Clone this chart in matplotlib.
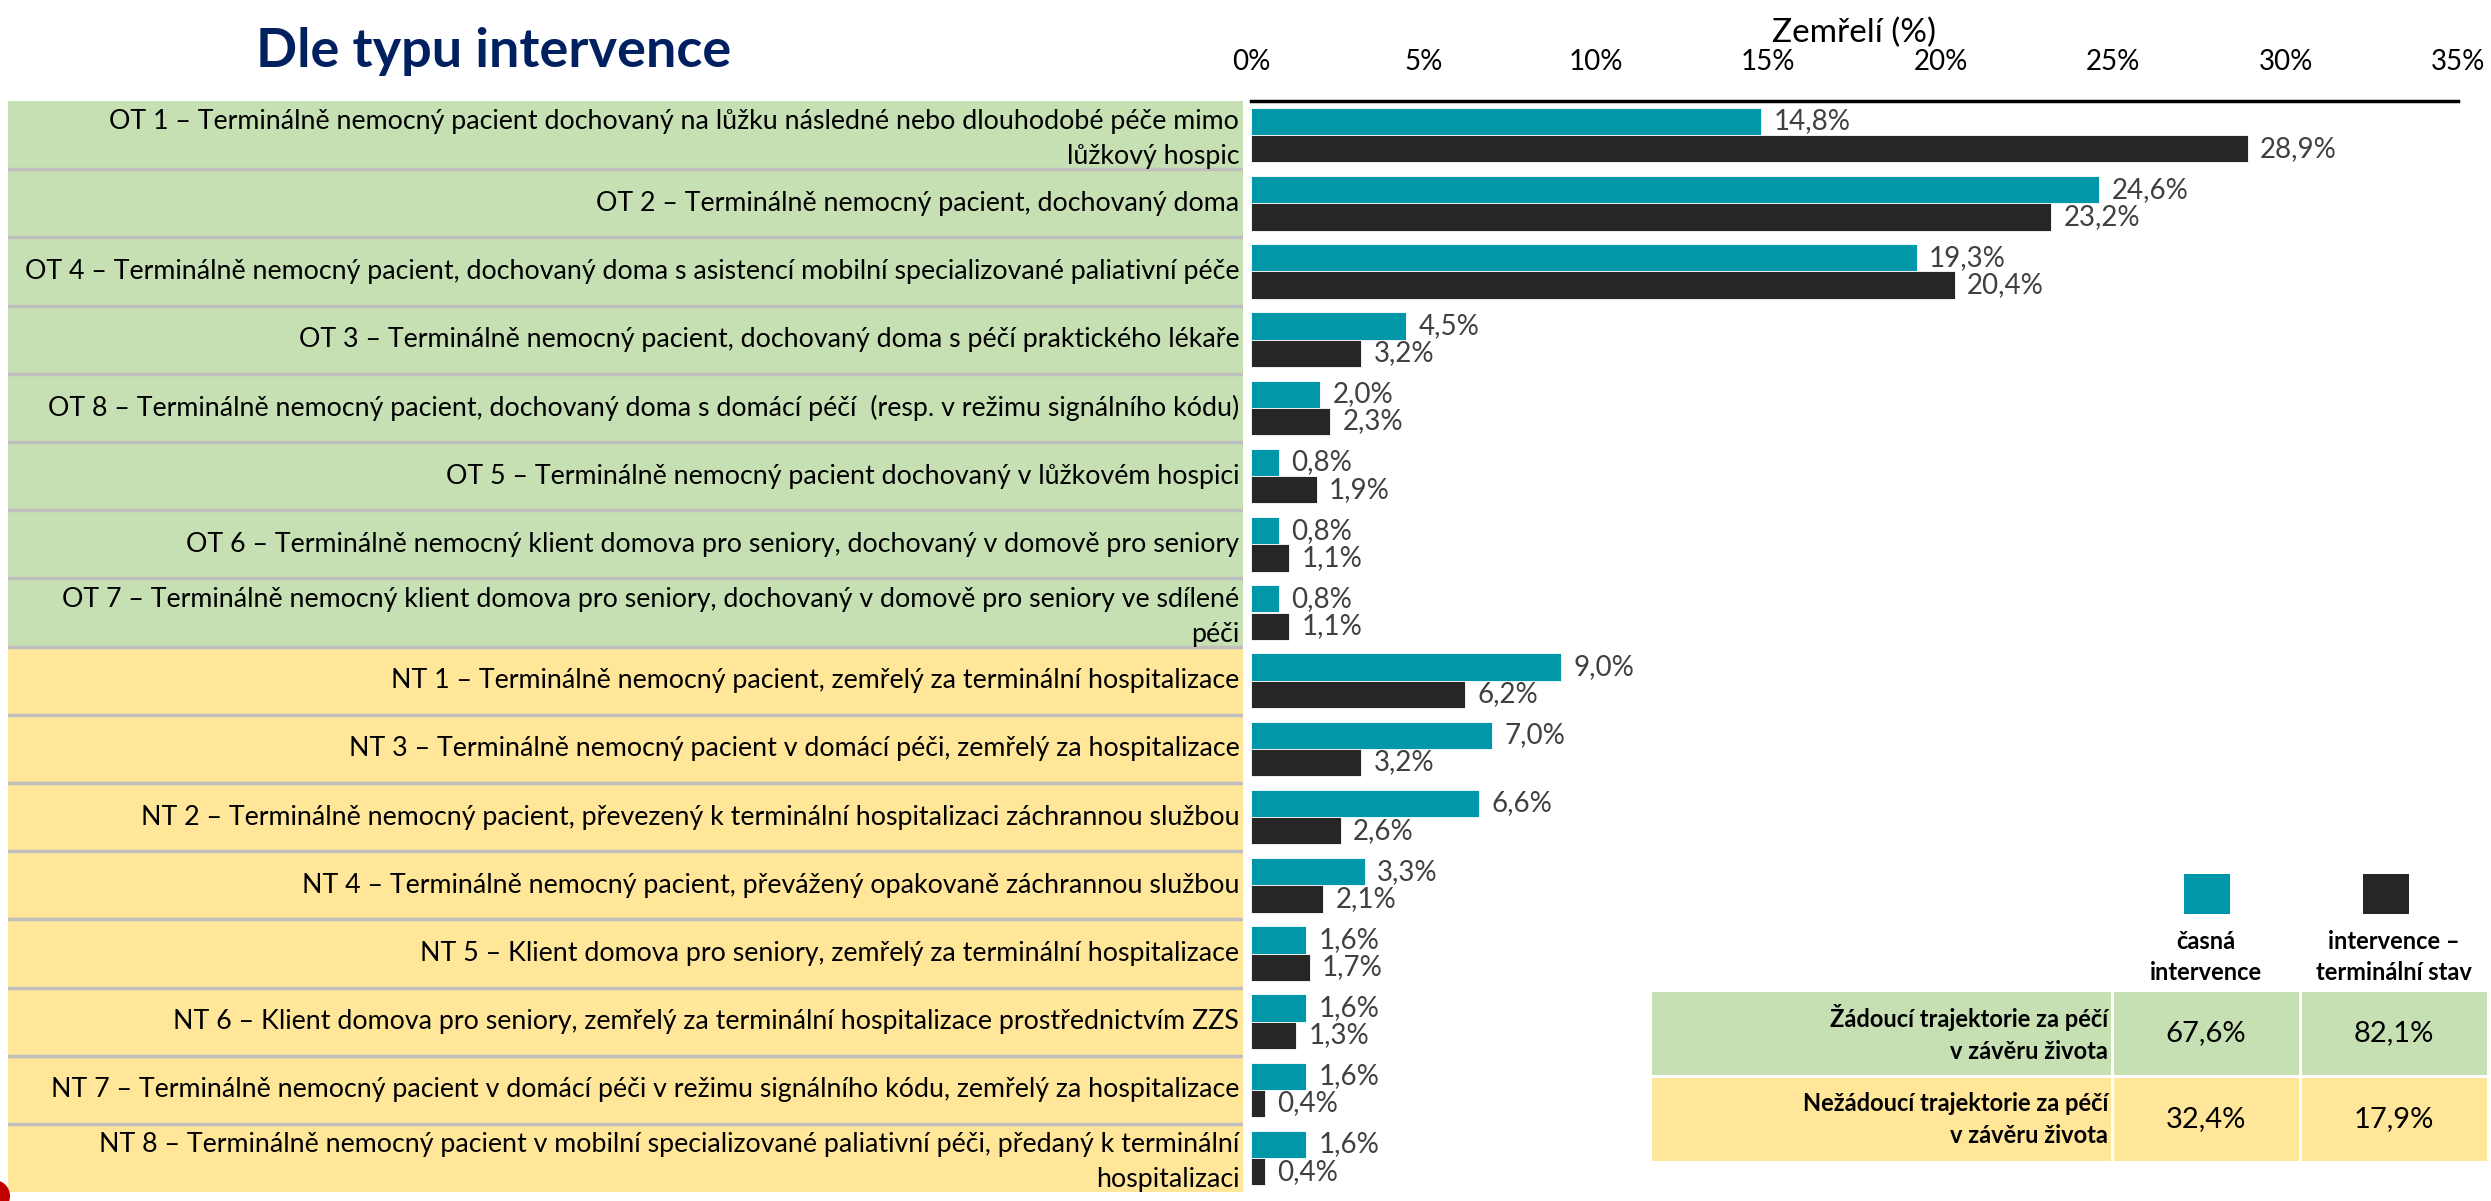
import matplotlib
matplotlib.use("Agg")
import matplotlib.pyplot as plt
from matplotlib.patches import Rectangle, Circle
from matplotlib.ticker import FuncFormatter

plt.rcParams['font.family'] = ['Lato', 'DejaVu Sans']

# ---------------- data ----------------
categories = [
    "OT 1 – Terminálně nemocný pacient dochovaný na lůžku následné nebo dlouhodobé péče mimo\nlůžkový hospic",
    "OT 2 – Terminálně nemocný pacient, dochovaný doma",
    "OT 4 – Terminálně nemocný pacient, dochovaný doma s asistencí mobilní specializované paliativní péče",
    "OT 3 – Terminálně nemocný pacient, dochovaný doma s péčí praktického lékaře",
    "OT 8 – Terminálně nemocný pacient, dochovaný doma s domácí péčí  (resp. v režimu signálního kódu)",
    "OT 5 – Terminálně nemocný pacient dochovaný v lůžkovém hospici",
    "OT 6 – Terminálně nemocný klient domova pro seniory, dochovaný v domově pro seniory",
    "OT 7 – Terminálně nemocný klient domova pro seniory, dochovaný v domově pro seniory ve sdílené\npéči",
    "NT 1 – Terminálně nemocný pacient, zemřelý za terminální hospitalizace",
    "NT 3 – Terminálně nemocný pacient v domácí péči, zemřelý za hospitalizace",
    "NT 2 – Terminálně nemocný pacient, převezený k terminální hospitalizaci záchrannou službou",
    "NT 4 – Terminálně nemocný pacient, převážený opakovaně záchrannou službou",
    "NT 5 – Klient domova pro seniory, zemřelý za terminální hospitalizace",
    "NT 6 – Klient domova pro seniory, zemřelý za terminální hospitalizace prostřednictvím ZZS",
    "NT 7 – Terminálně nemocný pacient v domácí péči v režimu signálního kódu, zemřelý za hospitalizace",
    "NT 8 – Terminálně nemocný pacient v mobilní specializované paliativní péči, předaný k terminální\nhospitalizaci",
]
group = ["OT"] * 8 + ["NT"] * 8
casna = [14.8, 24.6, 19.3, 4.5, 2.0, 0.8, 0.8, 0.8, 9.0, 7.0, 6.6, 3.3, 1.6, 1.6, 1.6, 1.6]
terminal = [28.9, 23.2, 20.4, 3.2, 2.3, 1.9, 1.1, 1.1, 6.2, 3.2, 2.6, 2.1, 1.7, 1.3, 0.4, 0.4]
xticks = [0, 5, 10, 15, 20, 25, 30, 35]

series_names = ["časná\nintervence", "intervence –\nterminální stav"]
summary_rows = ["Žádoucí trajektorie za péčí\nv závěru života", "Nežádoucí trajektorie za péčí\nv závěru života"]
summary_casna = [67.6, 32.4]
summary_terminal = [82.1, 17.9]

title = "Dle typu intervence"
xlabel = "Zemřelí (%)"

# ---------------- style ----------------
TEAL = "#0097A9"
DARK = "#262626"
GREEN = "#C6E0B4"
YELLOW = "#FFE699"
SEP = "#BFBFBF"
LABC = "#404040"
NAVY = "#002060"

W, H = 2491, 1201
fig = plt.figure(figsize=(W / 100, H / 100), dpi=100)

def fx(p):
    return p / W

def fy(p):
    return 1 - p / H

top = 101
rh = 68.2
n = len(categories)
bottom = top + n * rh

# bar axes
ax = fig.add_axes([fx(1251), fy(bottom), fx(2458) - fx(1251), (bottom - top) / H])
y = list(range(n))
bh = 0.4
ax.barh([v - bh / 2 for v in y], casna, height=bh, color=TEAL, edgecolor="white", linewidth=0.6)
ax.barh([v + bh / 2 for v in y], terminal, height=bh, color=DARK, edgecolor="white", linewidth=0.6)
fmt = lambda v: f"{v:.1f}".replace(".", ",") + "%"
for i in y:
    ax.annotate(fmt(casna[i]), (casna[i], i - bh / 2), xytext=(9, 0), textcoords="offset points",
                ha="left", va="center", fontsize=20, color=LABC)
    ax.annotate(fmt(terminal[i]), (terminal[i], i + bh / 2), xytext=(9, 0), textcoords="offset points",
                ha="left", va="center", fontsize=20, color=LABC)
ax.set_xlim(0, 35)
ax.set_ylim(n - 0.5, -0.5)
ax.set_xticks(xticks)
ax.xaxis.set_major_formatter(FuncFormatter(lambda v, p: f"{v:.0f}%"))
ax.xaxis.tick_top()
ax.xaxis.set_label_position("top")
ax.tick_params(axis="x", length=0, pad=19, labelsize=20, colors="black")
ax.set_yticks([])
ax.set_xlabel(xlabel, fontsize=24, labelpad=5)
for s in ["bottom", "left", "right"]:
    ax.spines[s].set_visible(False)
ax.spines["top"].set_linewidth(2.5)
ax.spines["top"].set_color("black")
ax.patch.set_alpha(0)

# label column axes
axl = fig.add_axes([fx(8), fy(bottom), fx(1243) - fx(8), (bottom - top) / H])
axl.set_xlim(0, 1)
axl.set_ylim(n - 0.5, -0.5)
axl.axis("off")
for i in y:
    c = GREEN if group[i] == "OT" else YELLOW
    axl.add_patch(Rectangle((0, i - 0.5), 1, 1, facecolor=c, edgecolor="none"))
    two = "\n" in categories[i]
    axl.text(0.997, i + (0.06 if two else 0.0), categories[i], ha="right", va="center",
             fontsize=19.3, color="black", linespacing=1.5)
for i in range(n - 1):
    axl.axhline(i + 0.5, color=SEP, lw=2.5)

# overlay for title, legend, summary table
ov = fig.add_axes([0, 0, 1, 1])
ov.set_xlim(0, W)
ov.set_ylim(H, 0)
ov.axis("off")
ov.patch.set_alpha(0)

ov.text(494, 51, title, ha="center", va="center", fontsize=39, fontweight="bold", color=NAVY)

col_c = [2206, 2394]
ov.add_patch(Rectangle((2184, 874), 46, 40, facecolor=TEAL, edgecolor="none"))
ov.add_patch(Rectangle((2363, 874), 46, 40, facecolor=DARK, edgecolor="none"))
for cx, name in zip(col_c, series_names):
    ov.text(cx, 957, name, ha="center", va="center", fontsize=17, fontweight="bold",
            color="black", linespacing=1.45)

row_y = [(992, 1075), (1078, 1161)]
row_col = [GREEN, YELLOW]
cells_x = [(1652, 2111), (2114, 2299), (2302, 2487)]
for r in range(2):
    y0, y1 = row_y[r]
    for (x0, x1) in cells_x:
        ov.add_patch(Rectangle((x0, y0), x1 - x0, y1 - y0, facecolor=row_col[r], edgecolor="none"))
    ov.text(2108, (y0 + y1) / 2, summary_rows[r], ha="right", va="center", fontsize=17,
            fontweight="bold", color="black", linespacing=1.45)
    ov.text(col_c[0], (y0 + y1) / 2, fmt(summary_casna[r]), ha="center", va="center",
            fontsize=21, color="black")
    ov.text(col_c[1], (y0 + y1) / 2, fmt(summary_terminal[r]), ha="center", va="center",
            fontsize=21, color="black")

ov.add_patch(Circle((-6, 1196), 16, facecolor="#C00000", edgecolor="none"))

fig.savefig("out.png", dpi=100)
